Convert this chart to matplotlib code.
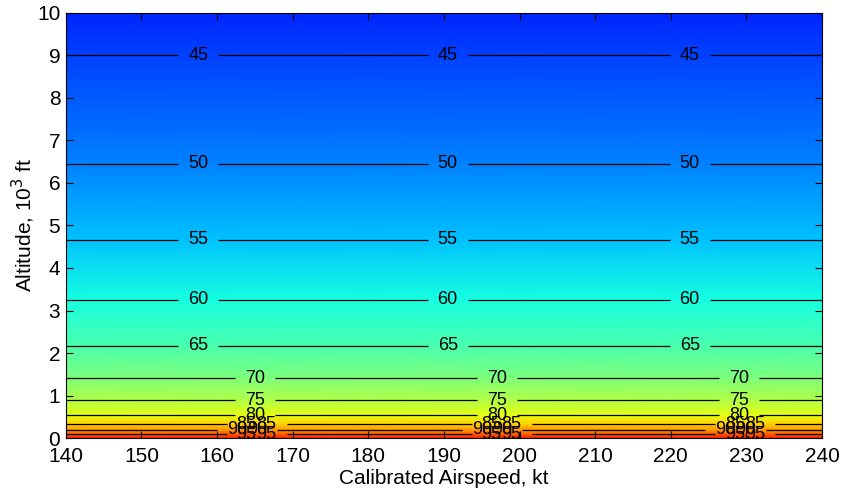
import numpy as np
import matplotlib.pyplot as plt

plt.rcParams['font.family'] = ['Liberation Sans', 'DejaVu Sans']

# данные: скорость (kt), высота (10^3 ft), уровень шума по высоте
airspeed = [140, 160, 180, 200, 220, 240]
altitude = [0.0, 0.094, 0.19, 0.33, 0.54, 0.89, 1.41, 2.17, 3.25, 4.67, 6.45, 9.0, 10.0]
noise = [100, 95, 90, 85, 80, 75, 70, 65, 60, 55, 50, 45, 43]
levels = [45, 50, 55, 60, 65, 70, 75, 80, 85, 90, 95]

X, Y = np.meshgrid(airspeed, altitude)
Z = np.tile(np.array(noise, dtype=float)[:, None], (1, len(airspeed)))

fig = plt.figure(figsize=(8.44, 4.95), dpi=100)
ax = fig.add_axes([0.078, 0.115, 0.896, 0.859])

ax.pcolormesh(X, Y, Z, shading='gouraud', cmap='jet', vmin=30, vmax=110)
cs = ax.contour(X, Y, Z, levels=levels, colors='k', linewidths=0.9)

# позиции подписей
upper = [45, 50, 55, 60, 65]
lower = [70, 75, 80]
bottom = [85, 90, 95]
pos = []
for lv in upper:
    h = np.interp(lv, noise[::-1], altitude[::-1])
    for x in (157.5, 190.5, 222.5):
        pos.append((x, h))
for lv in lower:
    h = np.interp(lv, noise[::-1], altitude[::-1])
    for x in (165, 197, 229):
        pos.append((x, h))
for lv in bottom:
    h = np.interp(lv, noise[::-1], altitude[::-1])
    for x in (163.9, 165.3, 196.3, 197.7, 228.5, 229.9):
        pos.append((x, h))
ax.clabel(cs, manual=pos, fmt='%d', fontsize=13, inline=True, inline_spacing=10)

ax.set_xlim(140, 240)
ax.set_ylim(0, 10)
ax.set_xticks(range(140, 241, 10))
ax.set_yticks(range(0, 11))
ax.tick_params(direction='in', top=True, right=True, labelsize=15, length=5)
ax.tick_params(axis='x', pad=6.5)
ax.tick_params(axis='y', pad=4)
ax.set_xlabel('Calibrated Airspeed, kt', fontsize=15, labelpad=2)
ax.set_ylabel('Altitude, 10$^3$ ft', fontsize=15, labelpad=0)

fig.savefig('out.png', dpi=100)
